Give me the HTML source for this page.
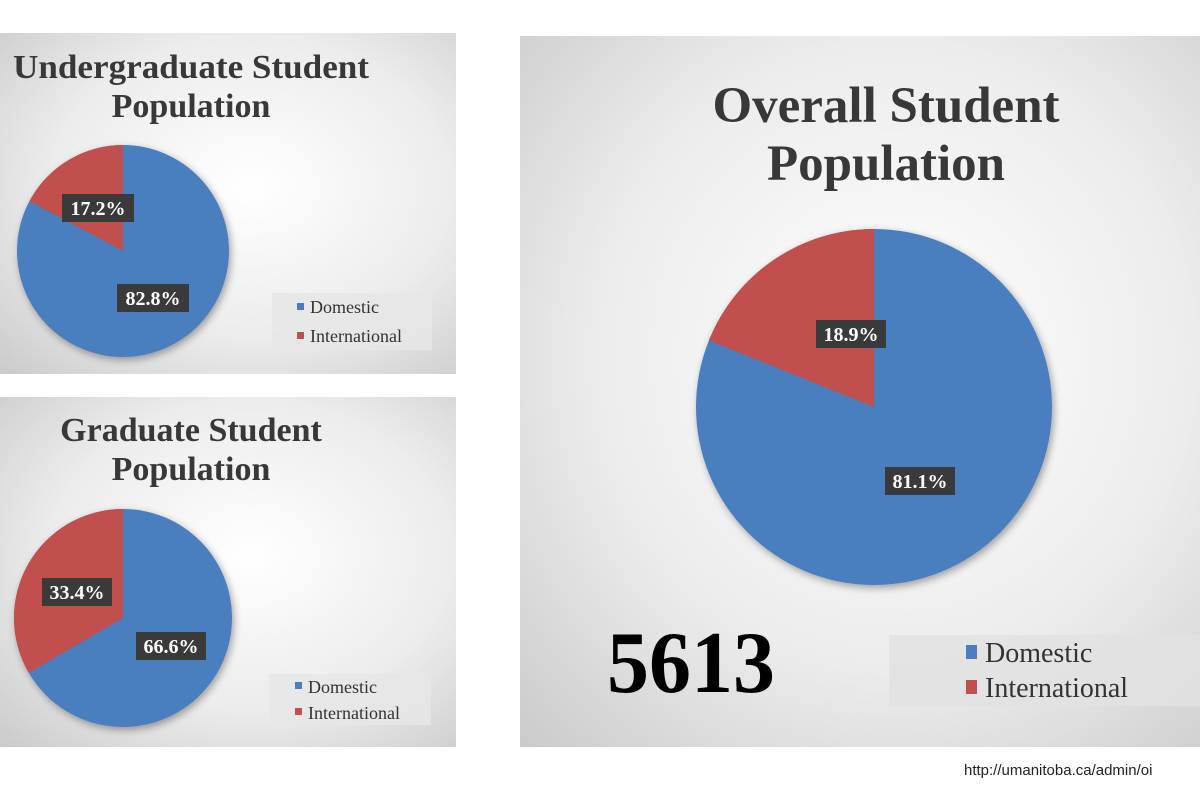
<!DOCTYPE html>
<html><head><meta charset="utf-8"><style>
html,body{margin:0;padding:0;background:#fff;width:1200px;height:800px;overflow:hidden}
svg text{font-family:"Liberation Serif",serif}
</style></head><body>
<svg width="1200" height="800" viewBox="0 0 1200 800" xmlns="http://www.w3.org/2000/svg">
<defs>
<radialGradient id="bg" cx="0.55" cy="0.45" r="0.8">
<stop offset="0" stop-color="#ffffff"/><stop offset="0.55" stop-color="#ececec"/><stop offset="1" stop-color="#c8c8c8"/>
</radialGradient>
<filter id="sh" x="-20%" y="-20%" width="140%" height="140%"><feGaussianBlur in="SourceAlpha" stdDeviation="4"/><feOffset dx="2" dy="3"/><feComponentTransfer><feFuncA type="linear" slope="0.35"/></feComponentTransfer><feMerge><feMergeNode/><feMergeNode in="SourceGraphic"/></feMerge></filter>
</defs>
<rect x="0" y="33" width="456" height="341" fill="url(#bg)"/>
<rect x="0" y="397" width="456" height="350" fill="url(#bg)"/>
<rect x="520" y="36" width="680" height="711" fill="url(#bg)"/>

<!-- Panel 1 -->
<text x="191" y="78" font-size="34" font-weight="bold" fill="#383838" text-anchor="middle" textLength="356" lengthAdjust="spacingAndGlyphs">Undergraduate Student</text>
<text x="191" y="117" font-size="34" font-weight="bold" fill="#383838" text-anchor="middle">Population</text>
<g filter="url(#sh)">
<circle cx="123" cy="251" r="106" fill="#4a7ebf"/>
<path d="M123 251 L123 145 A106 106 0 0 0 29.5 201.1 Z" fill="#c0504d"/>
</g>
<rect x="62" y="194" width="72" height="28" fill="#3a3a3a"/>
<text x="98" y="215" font-size="20" font-weight="bold" fill="#fff" text-anchor="middle">17.2%</text>
<rect x="117" y="284" width="72" height="28" fill="#3a3a3a"/>
<text x="153" y="305" font-size="20" font-weight="bold" fill="#fff" text-anchor="middle">82.8%</text>
<rect x="272" y="293" width="160" height="57" fill="#e6e6e6" opacity="0.85"/>
<rect x="297" y="303" width="7" height="7" fill="#4a7ebf"/>
<text x="310" y="313" font-size="18" fill="#333">Domestic</text>
<rect x="297" y="332" width="7" height="7" fill="#c0504d"/>
<text x="310" y="342" font-size="18" fill="#333">International</text>

<!-- Panel 2 -->
<text x="191" y="441" font-size="34" font-weight="bold" fill="#383838" text-anchor="middle">Graduate Student</text>
<text x="191" y="480" font-size="34" font-weight="bold" fill="#383838" text-anchor="middle">Population</text>
<g filter="url(#sh)">
<circle cx="123" cy="618" r="109" fill="#4a7ebf"/>
<path d="M123 618 L123 509 A109 109 0 0 0 28.8 672.9 Z" fill="#c0504d"/>
</g>
<rect x="42" y="578" width="70" height="28" fill="#3a3a3a"/>
<text x="77" y="599" font-size="20" font-weight="bold" fill="#fff" text-anchor="middle">33.4%</text>
<rect x="136" y="632" width="70" height="28" fill="#3a3a3a"/>
<text x="171" y="653" font-size="20" font-weight="bold" fill="#fff" text-anchor="middle">66.6%</text>
<rect x="269" y="674" width="162" height="51" fill="#e6e6e6" opacity="0.85"/>
<rect x="295" y="682" width="7" height="7" fill="#4a7ebf"/>
<text x="308" y="693" font-size="18" fill="#333">Domestic</text>
<rect x="295" y="708" width="7" height="7" fill="#c0504d"/>
<text x="308" y="719" font-size="18" fill="#333">International</text>

<!-- Panel 3 -->
<text x="886" y="122" font-size="51" font-weight="bold" fill="#383838" text-anchor="middle">Overall Student</text>
<text x="886" y="180" font-size="51" font-weight="bold" fill="#383838" text-anchor="middle">Population</text>
<g filter="url(#sh)">
<circle cx="874" cy="407" r="178" fill="#4a7ebf"/>
<path d="M874 407 L874 229 A178 178 0 0 0 708.9 340.4 Z" fill="#c0504d"/>
</g>
<rect x="816" y="320" width="70" height="28" fill="#3a3a3a"/>
<text x="851" y="341" font-size="20" font-weight="bold" fill="#fff" text-anchor="middle">18.9%</text>
<rect x="885" y="467" width="70" height="28" fill="#3a3a3a"/>
<text x="920" y="488" font-size="20" font-weight="bold" fill="#fff" text-anchor="middle">81.1%</text>
<text x="607" y="692" font-size="88" font-weight="bold" fill="#000" textLength="168" lengthAdjust="spacingAndGlyphs">5613</text>
<rect x="889" y="635" width="311" height="71" fill="#e2e2e2" opacity="0.85"/>
<rect x="966" y="645" width="11" height="14" fill="#4a7ebf"/>
<text x="985" y="662" font-size="28" fill="#333">Domestic</text>
<rect x="966" y="680" width="11" height="14" fill="#c0504d"/>
<text x="985" y="697" font-size="28" fill="#333">International</text>

<text x="964" y="775" font-size="15" fill="#222" style="font-family:'Liberation Sans',sans-serif">http://umanitoba.ca/admin/oi</text>
</svg>
</body></html>
